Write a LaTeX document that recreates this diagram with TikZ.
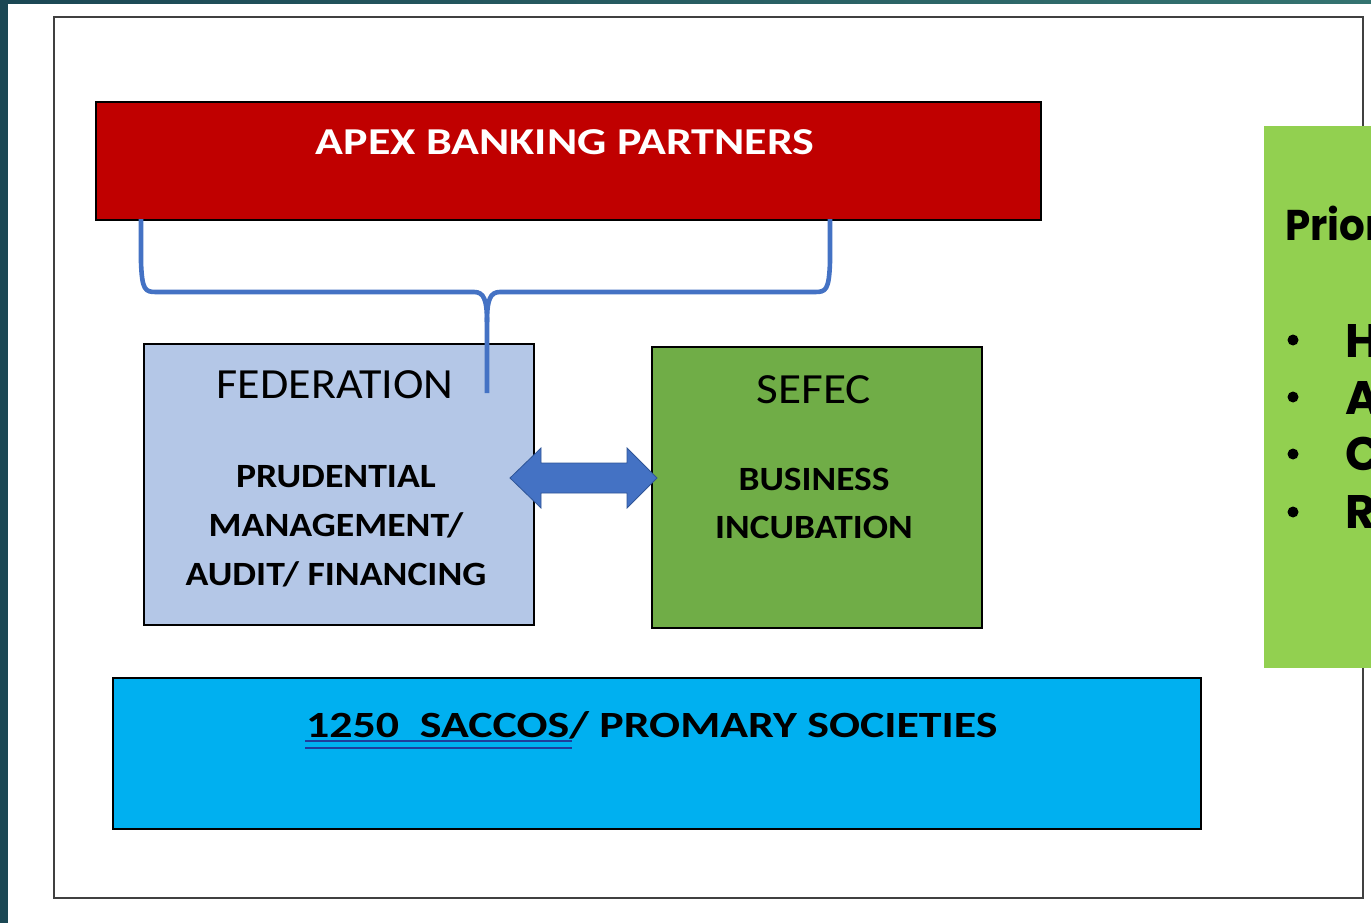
\documentclass[tikz,border=0pt]{standalone}
\usepackage{fontspec}
\setmainfont{Carlito}
\newfontfamily\gothic{Poppins}
\usetikzlibrary{calc}
\definecolor{tealL}{HTML}{1B4754}
\definecolor{tealR}{HTML}{347370}
\definecolor{apexred}{HTML}{C00000}
\definecolor{fedblue}{HTML}{B4C7E7}
\definecolor{sefecgreen}{HTML}{70AD47}
\definecolor{saccoblue}{HTML}{00B0F0}
\definecolor{panelgreen}{HTML}{92D050}
\definecolor{linkblue}{HTML}{4472C4}
\definecolor{linkdark}{HTML}{2F5597}
\definecolor{ulblue}{HTML}{1F3C9C}
% horizontally widened text
\newcommand{\wide}[2]{\scalebox{#1}[1]{#2}}
\tikzset{
  box/.style={draw=black, line width=1.6pt, inner sep=0pt, anchor=north west},
  lbl/.style={anchor=base, inner sep=0pt, text=black},
  bullet/.style={circle, fill=black, inner sep=0pt, minimum size=11pt},
  headfont/.style={font=\fontsize{43}{50}\selectfont},
  bodyfont/.style={font=\bfseries\fontsize{34}{40}\selectfont},
  panelfont/.style={font=\gothic\bfseries\fontsize{47}{54}\selectfont},
}
\begin{document}
\begin{tikzpicture}[x=1pt, y=-1pt]
\useasboundingbox (0,0) rectangle (1371,923);
\begin{scope}
\clip (0,0) rectangle (1371,923);
% slide background
\shade[left color=tealL, right color=tealR] (0,0) rectangle (1371,923);
\fill[white] (8,4) rectangle (1371,923);
% outer frame
\draw[draw=black!75, line width=1.8pt] (54,17) rectangle (1363,898);
% boxes
\node[box, fill=apexred, minimum width=945pt, minimum height=118pt] (apex) at (95,101) {};
\node[box, fill=fedblue, minimum width=390pt, minimum height=281pt] (fed) at (143,343) {};
\node[box, fill=sefecgreen, minimum width=330pt, minimum height=281pt] (sefec) at (651,346) {};
\node[box, fill=saccoblue, minimum width=1088pt, minimum height=151pt] (sacco) at (112,677) {};
% texts
\node[lbl, text=white, font=\bfseries\fontsize{38}{44}\selectfont] (apext) at (565,155) {\wide{1.21}{APEX BANKING PARTNERS}};
\node[lbl, headfont] (fedt) at (335,398) {\wide{1.07}{FEDERATION}};
\node[lbl, bodyfont] (fed1) at (336,487) {\wide{1.11}{PRUDENTIAL}};
\node[lbl, bodyfont] (fed2) at (336,536) {\wide{1.11}{MANAGEMENT/}};
\node[lbl, bodyfont] (fed3) at (336,585) {\wide{1.11}{AUDIT/ FINANCING}};
\node[lbl, headfont] (sefect) at (814,403) {\wide{1.10}{SEFEC}};
\node[lbl, bodyfont] (sef1) at (814,490) {\wide{1.10}{BUSINESS}};
\node[lbl, bodyfont] (sef2) at (814,538) {\wide{1.10}{INCUBATION}};
\node[lbl, anchor=base west, font=\bfseries\fontsize{37}{44}\selectfont] (saccot) at (306,737) {\wide{1.24}{1250\ \ SACCOS/ PROMARY SOCIETIES}};
% double underline of the first words
\coordinate (ulA) at (305,741);
\coordinate (ulB) at (572,741);
\coordinate (ulC) at (305,748);
\coordinate (ulD) at (572,748);
\draw[ulblue, line width=1.6pt] (ulA) -- (ulB);
\draw[ulblue, line width=1.6pt] (ulC) -- (ulD);
% bracket joining the partners to the federation
\coordinate (bl) at (141,219);
\coordinate (br) at (830,219);
\coordinate (bm) at (487,393);
\draw[linkblue, line width=4.6pt, line join=round]
  (bl) -- (141,262) .. controls (142,290) and (145,292) .. (156,292)
  -- (474,292) .. controls (484,292) and (487,300) .. (487,322) -- (bm);
\draw[linkblue, line width=4.6pt, line join=round]
  (br) -- (830,262) .. controls (829,290) and (826,292) .. (815,292)
  -- (500,292) .. controls (490,292) and (487,300) .. (487,322);
% two-way block arrow between federation and sefec
\coordinate (arL) at (510,478);
\coordinate (arR) at (657,478);
\fill[linkblue, draw=linkdark, line width=0.8pt, line join=miter]
  (arL) -- (541,448) -- (541,463) -- (627,463) -- (627,448) -- (arR)
  -- (627,508) -- (627,493) -- (541,493) -- (541,508) -- cycle;
% priorities panel
\node[anchor=north west, fill=panelgreen, inner sep=0pt, minimum width=140pt, minimum height=542pt] (panel) at (1264,126) {};
\node[lbl, anchor=base west, font=\gothic\bfseries\fontsize{43}{50}\selectfont] (prio) at (1285,240) {\wide{0.94}{Prior}};
\node[bullet] (b1) at (1293,340) {};
\node[bullet] (b2) at (1293,397) {};
\node[bullet] (b3) at (1293,454) {};
\node[bullet] (b4) at (1293,512) {};
\node[lbl, anchor=base west, panelfont] (p1) at (1345,357) {H};
\node[lbl, anchor=base west, panelfont] (p2) at (1345,414) {A};
\node[lbl, anchor=base west, panelfont] (p3) at (1345,470) {C};
\node[lbl, anchor=base west, panelfont] (p4) at (1345,528) {R};
\end{scope}
\end{tikzpicture}
\end{document}
